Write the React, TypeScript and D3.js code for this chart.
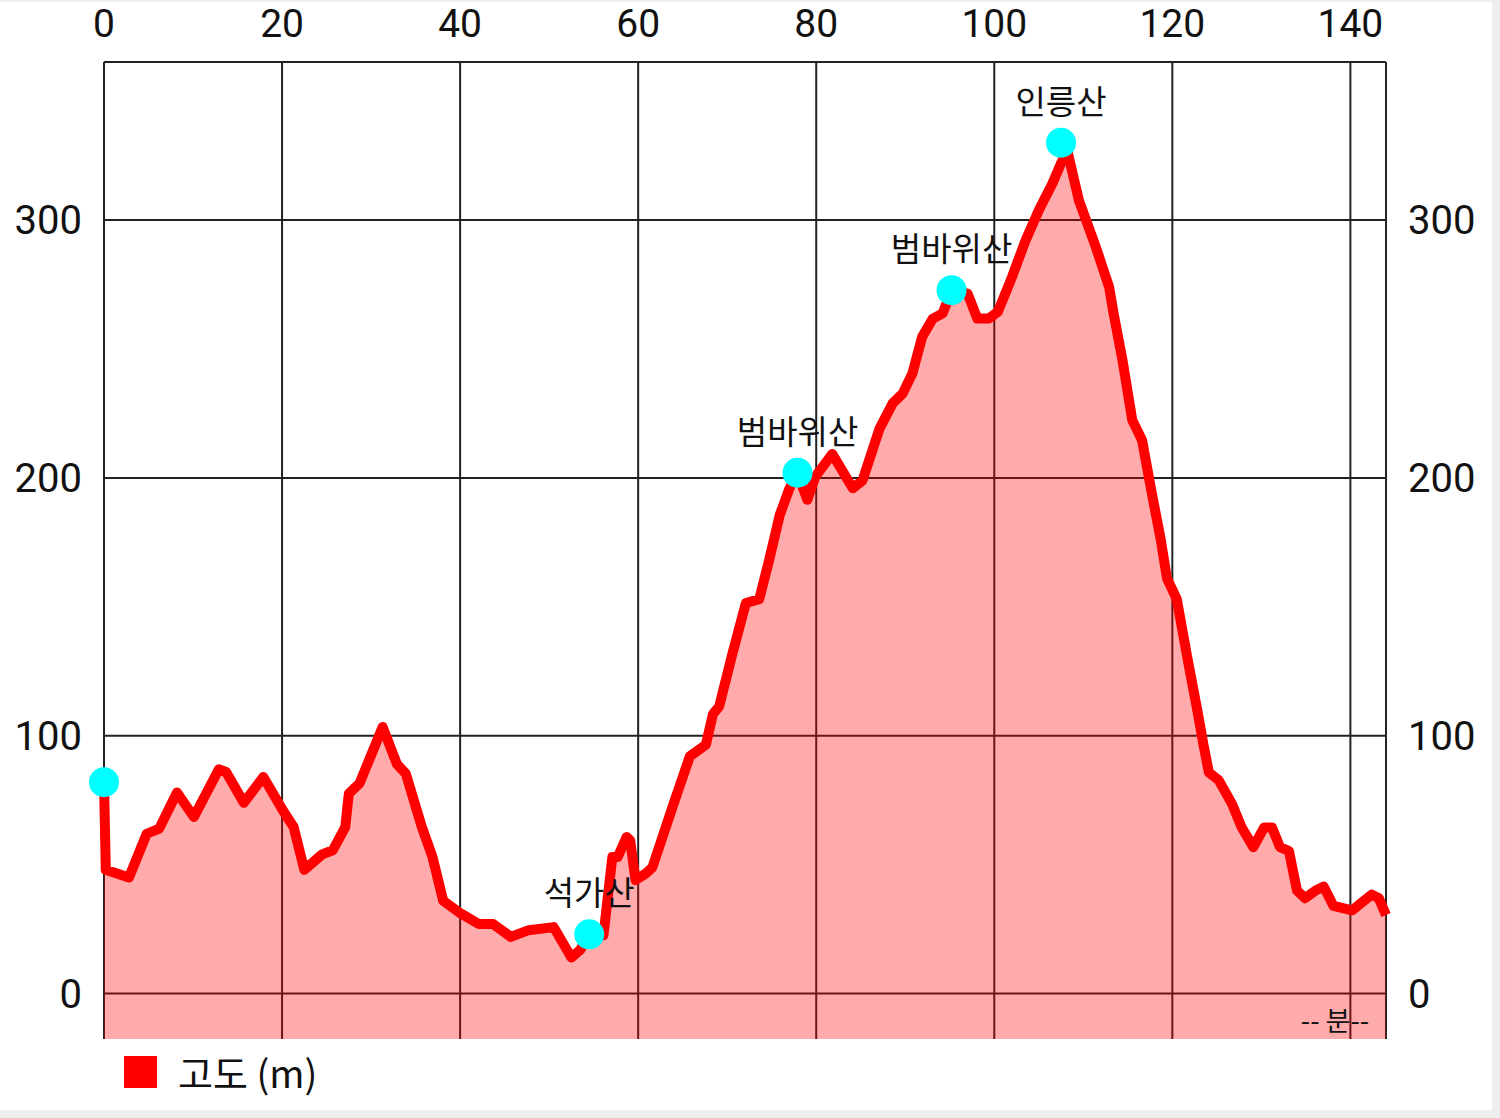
import * as d3 from "d3";

// elevation profile: minutes vs metres
const minutes = [
  0, 0.2, 2.8, 4.8, 6.2, 8.2, 10.1, 12.9, 13.7, 15.7, 17.9, 20.1, 21.3, 22.5,
  24.5, 25.7, 27.1, 27.5, 28.7, 31.3, 32.9, 33.9, 35.7, 36.9, 38.1, 40.1, 42.1,
  43.7, 45.7, 47.7, 50.5, 52.5, 53.5, 54.5, 56.1, 57.1, 57.7, 58.7, 59.1, 59.7,
  60.9, 61.6, 63.9, 65.8, 67.6, 68.4, 69.1, 70.6, 72.1, 73.6, 74.7, 75.9, 77.0,
  77.9, 79.0, 79.9, 81.8, 84.1, 85.2, 87.1, 88.6, 89.7, 90.8, 91.9, 93.1, 94.2,
  95.2, 97.0, 98.1, 99.4, 100.4, 102.0, 103.5, 105.0, 106.5, 107.5, 108.2,
  109.5, 111.4, 112.9, 113.4, 114.4, 115.5, 116.6, 117.7, 118.7, 119.4, 120.5,
  121.7, 122.8, 123.5, 124.1, 125.2, 126.7, 127.8, 129.1, 130.3, 131.2, 132.1,
  133.1, 134.0, 134.9, 136.1, 137.0, 138.1, 140.2, 141.3, 142.4, 143.2, 144,
];
const elevation = [
  82, 48, 45, 62, 64, 78, 68.5, 87, 86, 74, 84, 71, 64.6, 48, 54, 55.6, 64.6,
  77.6, 81.5, 103.4, 89, 85.3, 64.6, 53, 36, 31, 27, 27, 22, 24.6, 25.8, 14, 17,
  23, 22.6, 53, 53, 60.7, 59.5, 44, 46.7, 49, 72.8, 92, 96.5, 108.4, 111.4, 132,
  151.5, 153, 168, 185.6, 196, 202, 191.5, 200.5, 209.3, 196, 199, 219, 229,
  232.7, 240.5, 254.7, 261.8, 263.8, 272.8, 271.5, 261.8, 261.8, 264.4, 278,
  292, 303.8, 314, 322, 327, 307.7, 289.6, 274, 263.8, 245.7, 222.4, 214.6, 194,
  176, 161, 153, 130, 110, 96.5, 85.8, 82.8, 73.6, 64.4, 56.8, 64.4, 64.4, 56.8,
  55.3, 40, 37, 40, 41.5, 34, 32.3, 35.4, 38.4, 37, 30.5,
];

// waypoints
const waypointMinutes = [0, 54.5, 77.9, 95.2, 107.5];
const waypointElevation = [82, 23, 202, 272.8, 330];
const waypointNames = ["", "석가산", "범바위산", "범바위산", "인릉산"];

const xTicks = [0, 20, 40, 60, 80, 100, 120, 140];
const yTicks = [0, 100, 200, 300];
const legendLabel = "고도 (m)";
const unitLabel = "-- 분--";

const W = 1500;
const H = 1118;
const plot = { left: 104, right: 1386, top: 62, bottom: 1039 };
const font = "Roboto, 'Noto Sans CJK KR', sans-serif";
const krFont = "'Noto Sans CJK KR', Roboto, sans-serif";

export default function App() {
  const x = d3.scaleLinear().domain([0, 144]).range([plot.left, plot.right]);
  const y = d3.scaleLinear().domain([-17.6, 361.3]).range([plot.bottom, plot.top]);

  const pts: [number, number][] = minutes.map((m, i) => [m, elevation[i]]);

  const line = d3
    .line<[number, number]>()
    .x((d) => x(d[0]))
    .y((d) => y(d[1]));

  const area = d3
    .area<[number, number]>()
    .x((d) => x(d[0]))
    .y0(plot.bottom)
    .y1((d) => y(d[1]));

  return (
    <svg
      width={W}
      height={H}
      style={{ position: "absolute", left: 0, top: 0, display: "block" }}
    >
      <rect width={W} height={H} fill="#eeeeee" />
      <rect x={0} y={2} width={1492} height={1108} fill="#ffffff" />

      {/* grid */}
      {xTicks.map((t) => (
        <line
          key={"vx" + t}
          x1={x(t)}
          x2={x(t)}
          y1={plot.top}
          y2={plot.bottom}
          stroke="#222"
          strokeWidth={2}
        />
      ))}
      {yTicks.map((t) => (
        <line
          key={"hy" + t}
          x1={plot.left}
          x2={plot.right}
          y1={y(t)}
          y2={y(t)}
          stroke="#222"
          strokeWidth={2}
        />
      ))}
      <line x1={plot.left} x2={plot.right} y1={plot.top} y2={plot.top} stroke="#222" strokeWidth={2} />
      <line x1={plot.right} x2={plot.right} y1={plot.top} y2={plot.bottom} stroke="#222" strokeWidth={2} />

      {/* area + line */}
      <path d={area(pts) ?? ""} fill="rgba(255,0,0,0.33)" />
      <path
        d={line(pts) ?? ""}
        fill="none"
        stroke="#ff0000"
        strokeWidth={10}
        strokeLinejoin="round"
        strokeLinecap="butt"
      />

      {/* tick labels */}
      {xTicks.map((t) => (
        <text
          key={"xl" + t}
          x={x(t)}
          y={37}
          textAnchor="middle"
          fontFamily={font}
          fontSize={39}
          fill="#111"
        >
          {t}
        </text>
      ))}
      {yTicks.map((t) => (
        <g key={"yl" + t}>
          <text
            x={82}
            y={y(t)}
            dy="0.36em"
            textAnchor="end"
            fontFamily={font}
            fontSize={40}
            fill="#111"
          >
            {t}
          </text>
          <text
            x={1408}
            y={y(t)}
            dy="0.36em"
            textAnchor="start"
            fontFamily={font}
            fontSize={40}
            fill="#111"
          >
            {t}
          </text>
        </g>
      ))}

      {/* waypoints */}
      {waypointMinutes.map((m, i) => (
        <g key={"wp" + i}>
          <circle cx={x(m)} cy={y(waypointElevation[i])} r={15} fill="#00ffff" />
          {waypointNames[i] && (
            <text
              x={x(m)}
              y={y(waypointElevation[i]) - 29}
              textAnchor="middle"
              fontFamily={krFont}
              fontSize={33}
              fill="#111"
            >
              {waypointNames[i]}
            </text>
          )}
        </g>
      ))}

      <text x={1335} y={1031} textAnchor="middle" fontFamily={krFont} fontSize={27} fill="#111">
        {unitLabel}
      </text>

      {/* legend */}
      <rect x={124} y={1056} width={33} height={32} fill="#ff0000" />
      <text x={178} y={1088} fontFamily={krFont} fontSize={38} fill="#111">
        {legendLabel}
      </text>
    </svg>
  );
}
